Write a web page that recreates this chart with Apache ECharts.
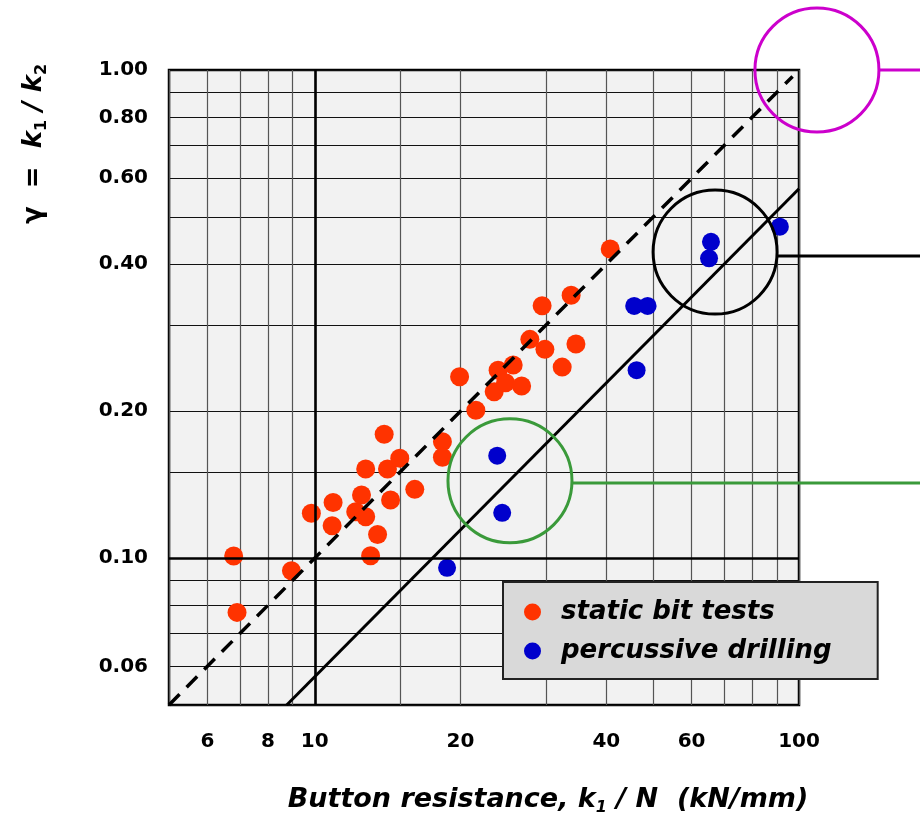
<!DOCTYPE html>
<html>
<head>
<meta charset="utf-8">
<style>
  html, body { margin: 0; padding: 0; background: #ffffff; }
  #chart { width: 920px; height: 821px; }
</style>
<script src="https://cdn.jsdelivr.net/npm/echarts@6/dist/echarts.min.js"></script>
</head>
<body>
<div id="chart"></div>
<script>
// ---------------- data ----------------
var staticK1 = [6.80, 6.91, 8.95, 9.84, 10.86, 10.91, 12.15, 12.49, 12.74, 12.74, 13.04, 13.48, 13.91, 14.13, 14.34, 14.98, 16.09, 18.35, 18.35, 19.91, 21.51, 23.47, 23.91, 24.77, 25.69, 26.74, 27.81, 29.48, 29.87, 32.43, 33.84, 34.62, 40.75];
var staticGamma = [0.101, 0.0774, 0.0942, 0.1235, 0.1165, 0.1300, 0.1244, 0.1346, 0.1522, 0.1215, 0.1011, 0.1118, 0.1793, 0.1522, 0.1315, 0.1601, 0.1383, 0.1731, 0.1609, 0.2352, 0.2008, 0.2192, 0.2427, 0.2287, 0.2486, 0.2252, 0.2806, 0.3289, 0.2677, 0.2462, 0.3454, 0.2745, 0.4297];

var percK1 = [18.76, 23.81, 24.38, 45.67, 46.2, 48.68, 65.2, 65.8, 91.3];
var percGamma = [0.0955, 0.1621, 0.1238, 0.3285, 0.2427, 0.3285, 0.4112, 0.4447, 0.4776];

var dashedK1 = [5, 97];
var dashedGamma = [0.05, 0.97];
var solidK1 = [8.75, 100];
var solidGamma = [0.05, 0.571];

// annotation circles: centre values and connector lines
var circleK1 = [108.9, 67.1, 25.3];
var circleGamma = [1.0, 0.4235, 0.144];
var circleColors = ['#cc00cc', '#000000', '#3a9a3a'];
var connectorFromK1 = [146.9, 90.1, 34.1];
var connectorToK1 = [230, 230, 230];
var connectorGamma = [1.0, 0.416, 0.1425];

// grid and labels
var xGridValues = [5, 6, 7, 8, 9, 10, 15, 20, 30, 40, 50, 60, 70, 80, 90, 100];
var yGridValues = [0.05, 0.06, 0.07, 0.08, 0.09, 0.1, 0.15, 0.2, 0.3, 0.4, 0.5, 0.6, 0.7, 0.8, 0.9, 1.0];
var xTickLabels = [6, 8, 10, 20, 40, 60, 100];
var yTickLabels = [0.06, 0.1, 0.2, 0.4, 0.6, 0.8, 1.0];
var thickX = 10, thickY = 0.1;

var legendNames = ['static bit tests', 'percussive drilling'];

// ---------------- build ----------------
function zip(a, b) { return a.map(function (v, i) { return [v, b[i]]; }); }

var FONT = 'DejaVu Sans';

var series = [
  {
    name: legendNames[0], type: 'scatter', symbol: 'circle', symbolSize: 19,
    itemStyle: { color: '#ff3300', opacity: 1 },
    data: zip(staticK1, staticGamma), z: 3,
    markLine: {
      silent: true, symbol: 'none', animation: false,
      label: { show: false },
      lineStyle: { color: '#000', width: 2.6, type: 'solid' },
      data: [{ xAxis: thickX }, { yAxis: thickY }]
    }
  },
  {
    name: legendNames[1], type: 'scatter', symbol: 'circle', symbolSize: 18,
    itemStyle: { color: '#0000cc', opacity: 1 },
    data: zip(percK1, percGamma), z: 3
  },
  {
    type: 'line', data: zip(dashedK1, dashedGamma), symbol: 'none', z: 4,
    lineStyle: { color: '#000', width: 3.5, type: [15, 10] }, silent: true
  },
  {
    type: 'line', data: zip(solidK1, solidGamma), symbol: 'none', z: 4,
    lineStyle: { color: '#000', width: 3 }, silent: true
  }
];

circleK1.forEach(function (k, i) {
  series.push({
    type: 'scatter', symbol: 'circle', symbolSize: 124, clip: false, silent: true, z: 5,
    itemStyle: { color: 'rgba(0,0,0,0)', borderColor: circleColors[i], borderWidth: 3, opacity: 1 },
    data: [[k, circleGamma[i]]]
  });
});

series.push({
  type: 'custom', clip: false, silent: true, z: 5,
  encode: { x: [0, 1], y: 2 },
  data: connectorGamma.map(function (g, i) { return [connectorFromK1[i], connectorToK1[i], g, i]; }),
  renderItem: function (params, api) {
    var g = api.value(2);
    var p1 = api.coord([api.value(0), g]);
    var p2 = api.coord([api.value(1), g]);
    return {
      type: 'line',
      shape: { x1: p1[0], y1: p1[1], x2: p2[0], y2: p2[1] },
      style: { stroke: circleColors[api.value(3)], lineWidth: 3 }
    };
  }
});

var option = {
  animation: false,
  backgroundColor: '#ffffff',
  grid: {
    left: 169, top: 70, width: 630, height: 635,
    show: true, backgroundColor: '#f2f2f2', borderColor: '#000', borderWidth: 2.5
  },
  xAxis: {
    type: 'log', logBase: 10, min: 5, max: 100,
    axisLine: { show: false },
    axisTick: { show: false, customValues: xGridValues },
    splitLine: { show: true, lineStyle: { color: '#555', width: 1.2 } },
    minorSplitLine: { show: false },
    axisLabel: {
      customValues: xTickLabels, margin: 27,
      fontFamily: FONT, fontWeight: 'bold', fontSize: 20, lineHeight: 20, color: '#000',
      formatter: function (v) { return String(Math.round(v)); }
    }
  },
  yAxis: {
    type: 'log', logBase: 10, min: 0.05, max: 1.0,
    axisLine: { show: false },
    axisTick: { show: false, customValues: yGridValues },
    splitLine: { show: true, lineStyle: { color: '#111', width: 1.1 } },
    axisLabel: {
      customValues: yTickLabels, margin: 21,
      fontFamily: FONT, fontWeight: 'bold', fontSize: 20, color: '#000',
      formatter: function (v) { return Number(v).toFixed(2); }
    }
  },
  legend: {
    data: legendNames, orient: 'vertical', left: 503, top: 582,
    icon: 'circle', itemWidth: 17, itemHeight: 17, itemGap: 11,
    padding: [16, 46, 14, 21],
    backgroundColor: '#d9d9d9', borderColor: '#222', borderWidth: 2,
    selectedMode: false,
    textStyle: { fontFamily: FONT, fontWeight: 'bold', fontStyle: 'italic', fontSize: 26, lineHeight: 28, color: '#000', padding: [0, 0, 0, 15] }
  },
  graphic: [
    {
      type: 'text', x: 548, y: 800, silent: true,
      style: {
        text: '{t|Button resistance, k}{s|1}{t| / N  (kN/mm)}',
        align: 'center', verticalAlign: 'middle',
        rich: {
          t: { fontFamily: FONT, fontWeight: 'bold', fontStyle: 'italic', fontSize: 27, lineHeight: 32, fill: '#000' },
          s: { fontFamily: FONT, fontWeight: 'bold', fontStyle: 'italic', fontSize: 16, lineHeight: 18, verticalAlign: 'bottom', fill: '#000' }
        }
      }
    },
    {
      type: 'text', x: 34, y: 144, rotation: Math.PI / 2, silent: true,
      style: {
        text: '{g|γ  =  }{k|k}{s|1}{k| / k}{s|2}',
        align: 'center', verticalAlign: 'middle',
        rich: {
          g: { fontFamily: FONT, fontWeight: 'bold', fontSize: 26, lineHeight: 32, fill: '#000' },
          k: { fontFamily: FONT, fontWeight: 'bold', fontStyle: 'italic', fontSize: 26, lineHeight: 32, fill: '#000' },
          s: { fontFamily: FONT, fontWeight: 'bold', fontSize: 16, lineHeight: 18, verticalAlign: 'bottom', fill: '#000' }
        }
      }
    }
  ],
  series: series
};

var chart = echarts.init(document.getElementById('chart'), null, { renderer: 'canvas' });
chart.setOption(option);
</script>
</body>
</html>
